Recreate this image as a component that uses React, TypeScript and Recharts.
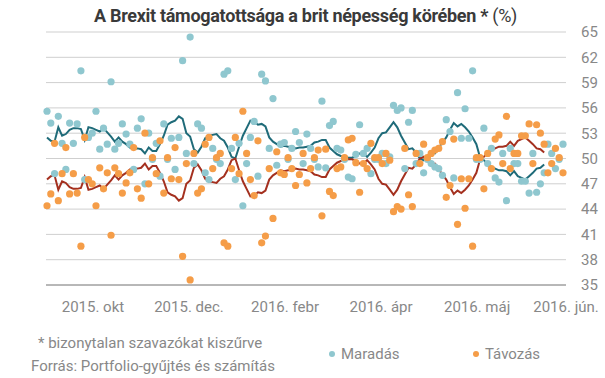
import {
  ComposedChart,
  Scatter,
  Line,
  XAxis,
  YAxis,
  CartesianGrid,
  Legend,
} from "recharts";

// Távozás (leave) share per poll, undecided filtered out
const leave = [
  44.4, 45.8, 51.8, 45.0, 48.2, 51.3, 45.8, 48.2, 45.9, 39.6,
  52.5, 47.5, 47.0, 44.4, 48.9, 46.4, 48.3, 40.9, 48.9, 48.2,
  45.9, 47.1, 48.3, 51.3, 46.4, 45.3, 53.0, 47.0, 50.1, 48.2,
  52.1, 45.9, 50.1, 47.6, 51.3, 47.5, 38.4, 49.4, 35.6, 50.6,
  45.9, 46.4, 51.7, 52.5, 48.8, 50.1, 50.6, 40.0, 39.6, 48.8,
  52.5, 48.2, 55.6, 50.6, 47.5, 45.6, 52.1, 40.0, 40.8, 48.8,
  42.9, 50.8, 48.3, 48.1, 50.1, 48.8, 46.8, 48.1, 50.6, 47.1,
  48.8, 50.1, 51.0, 43.2, 51.1, 46.1, 45.6, 48.8, 49.0, 50.1,
  52.2, 52.4, 49.5, 46.0, 49.4, 48.8, 51.8, 50.1, 50.1, 49.4,
  50.6, 49.8, 43.7, 44.3, 44.0, 51.2, 45.7, 44.3, 50.6, 49.4,
  51.7, 50.1, 50.6, 51.0, 51.2, 52.0, 45.4, 46.8, 52.3, 42.2,
  47.6, 44.1, 47.6, 39.6, 50.1, 50.1, 46.4, 50.6, 48.8, 52.3,
  52.8, 49.4, 55.0, 48.8, 50.6, 50.6, 52.7, 52.7, 54.1, 49.4,
  54.0, 53.0, 51.7, 48.3, 49.4, 51.2, 50.1, 48.3,
];

// Maradás (remain) share per poll
const remain = [
  55.6, 54.2, 48.2, 55.0, 51.8, 48.7, 54.2, 51.8, 54.1, 60.4,
  47.5, 52.5, 53.0, 55.6, 51.1, 53.6, 51.7, 59.1, 51.1, 51.8,
  54.1, 52.9, 51.7, 48.7, 53.6, 54.7, 47.0, 53.0, 49.9, 51.8,
  47.9, 54.1, 49.9, 52.4, 48.7, 52.5, 61.6, 50.6, 64.4, 49.4,
  54.1, 53.6, 48.3, 47.5, 51.2, 49.9, 49.4, 60.0, 60.4, 51.2,
  47.5, 51.8, 44.4, 49.4, 52.5, 54.4, 47.9, 60.0, 59.2, 51.2,
  57.1, 49.2, 51.7, 51.9, 49.9, 51.2, 53.2, 51.9, 49.4, 52.9,
  51.2, 49.9, 49.0, 56.8, 48.9, 53.9, 54.4, 51.2, 51.0, 49.9,
  47.8, 47.6, 50.5, 54.0, 50.6, 51.2, 48.2, 49.9, 49.9, 50.6,
  49.4, 50.2, 56.3, 55.7, 56.0, 48.8, 54.3, 55.7, 49.4, 50.6,
  48.3, 49.9, 49.4, 49.0, 48.8, 48.0, 54.6, 53.2, 47.7, 57.8,
  52.4, 55.9, 52.4, 60.4, 49.9, 49.9, 53.6, 49.4, 51.2, 47.7,
  47.2, 50.6, 45.0, 51.2, 49.4, 49.4, 47.3, 47.3, 45.9, 50.6,
  46.0, 47.0, 48.3, 51.7, 50.6, 48.8, 49.9, 51.7,
];

// moving averages
const leaveAvg = [
  47.5, 47.9, 48.0, 46.3, 47.3, 47.1, 46.6, 46.4, 46.4, 46.5,
  47.8, 46.3, 46.4, 46.6, 46.8, 46.4, 46.9, 47.4, 48.0, 47.5,
  48.0, 48.3, 48.7, 48.8, 48.8, 48.9, 49.4, 48.7, 49.1, 49.1,
  48.3, 47.3, 46.0, 45.7, 45.5, 45.0, 45.3, 47.0, 47.4, 48.9,
  49.3, 48.6, 47.6, 47.3, 47.2, 47.1, 47.6, 47.9, 48.7, 49.8,
  50.0, 48.6, 47.3, 46.4, 45.5, 45.6, 46.0, 45.9, 46.2, 47.5,
  48.0, 48.3, 48.6, 48.5, 48.6, 48.6, 48.8, 48.7, 48.7, 48.6,
  48.5, 48.1, 48.0, 47.8, 47.8, 48.7, 49.1, 49.5, 49.7, 49.8,
  49.9, 49.9, 49.7, 49.4, 49.4, 49.8, 49.3, 48.7, 47.6, 47.0,
  46.9, 46.3, 45.7, 46.3, 47.3, 48.1, 48.9, 48.8, 49.3, 50.0,
  50.2, 49.7, 49.3, 49.4, 48.7, 48.1, 47.5, 46.6, 45.8, 46.2,
  45.9, 46.3, 46.8, 47.5, 48.3, 49.9, 50.2, 50.7, 51.0, 51.2,
  51.4, 51.4, 51.5, 52.0, 51.5, 52.1, 52.3, 52.5, 52.1, 51.7,
  51.2, 51.1, 50.7,
];

const remainAvg = [
  52.5, 52.1, 52.0, 53.7, 52.7, 52.9, 53.4, 53.6, 53.6, 53.5,
  52.2, 53.7, 53.6, 53.4, 53.2, 53.6, 53.1, 52.6, 52.0, 52.5,
  52.0, 51.7, 51.3, 51.2, 51.2, 51.1, 50.6, 51.3, 50.9, 50.9,
  51.7, 52.7, 54.0, 54.3, 54.5, 55.0, 54.7, 53.0, 52.6, 51.1,
  50.7, 51.4, 52.4, 52.7, 52.8, 52.9, 52.4, 52.1, 51.3, 50.2,
  50.0, 51.4, 52.7, 53.6, 54.5, 54.4, 54.0, 54.1, 53.8, 52.5,
  52.0, 51.7, 51.4, 51.5, 51.4, 51.4, 51.2, 51.3, 51.3, 51.4,
  51.5, 51.9, 52.0, 52.2, 52.2, 51.3, 50.9, 50.5, 50.3, 50.2,
  50.1, 50.1, 50.3, 50.6, 50.6, 50.2, 50.7, 51.3, 52.4, 53.0,
  53.1, 53.7, 54.3, 53.7, 52.7, 51.9, 51.1, 51.2, 50.7, 50.0,
  49.8, 50.3, 50.7, 50.6, 51.3, 51.9, 52.5, 53.4, 54.2, 53.8,
  54.1, 53.7, 53.2, 52.5, 51.7, 50.1, 49.8, 49.3, 49.0, 48.8,
  48.6, 48.6, 48.5, 48.0, 48.5, 47.9, 47.7, 47.5, 47.9, 48.3,
  48.8, 48.9, 49.3,
];

const monthTicks = [12.2, 37.7, 63.2, 88.7, 114.2, 137.8];
const monthLabels = ["2015. okt", "2015. dec.", "2016. febr", "2016. ápr", "2016. máj", "2016. jún."];
const yTicks = [35, 38, 41, 44, 47, 50, 53, 56, 59, 62, 65];
const seriesNames = ["Maradás", "Távozás"];

const data = leave.map((v, i) => ({
  i,
  leave: v,
  remain: remain[i],
  leaveAvg: leaveAvg[i],
  remainAvg: remainAvg[i],
}));

const dot = (color: string) => (props: any) =>
  <circle cx={props.cx} cy={props.cy} r={3.6} fill={color} />;

const renderLegend = ({ payload }: any) => (
  <div style={{ display: "flex" }}>
    {(payload || [])
      .filter((e: any) => seriesNames.includes(e.value))
      .map((e: any) => (
        <div
          key={e.value}
          style={{ width: 144, display: "flex", alignItems: "center", color: "#888", fontSize: 15 }}
        >
          <span
            style={{ width: 6, height: 6, borderRadius: 3, background: e.color, marginRight: 6, display: "inline-block" }}
          />
          {e.value}
        </div>
      ))}
  </div>
);

export default function App() {
  const font = "Roboto, 'Noto Sans', sans-serif";
  return (
    <div style={{ position: "absolute", left: 0, top: 0, width: 605, height: 378, background: "#fff", fontFamily: font }}>
      <div
        style={{
          position: "absolute",
          left: 94,
          top: 5,
          whiteSpace: "nowrap",
          fontSize: 18,
          fontWeight: 700,
          color: "#3a3a3a",
          letterSpacing: -0.3,
        }}
      >
        A Brexit támogatottsága a brit népesség körében * <span style={{ fontWeight: 400 }}>(%)</span>
      </div>
      <ComposedChart
        width={605}
        height={378}
        data={data}
        margin={{ top: 32, right: 0, bottom: 45, left: 46 }}
      >
        <CartesianGrid vertical={false} stroke="#cfcfcf" />
        <XAxis
          dataKey="i"
          type="number"
          domain={[-0.27, 137.8]}
          ticks={monthTicks}
          tickFormatter={(v: number) => monthLabels[monthTicks.indexOf(v)]}
          tickLine={false}
          tickSize={0}
          tickMargin={16}
          height={30}
          axisLine={{ stroke: "#888" }}
          tick={{ fill: "#888", fontSize: 15, fontFamily: font }}
          interval={0}
        />
        <YAxis
          orientation="right"
          domain={[35, 65]}
          ticks={yTicks}
          axisLine={false}
          tickLine={false}
          tickSize={0}
          tickMargin={15}
          width={39}
          tick={{ fill: "#888", fontSize: 15, fontFamily: font, textAnchor: "start" }}
          interval={0}
        />
        <Scatter name="Maradás" dataKey="remain" fill="#8fc7cf" shape={dot("#8fc7cf")} isAnimationActive={false} />
        <Scatter name="Távozás" dataKey="leave" fill="#f59d48" shape={dot("#f59d48")} isAnimationActive={false} />
        <Line dataKey="remainAvg" stroke="#1f6b79" strokeWidth={2} dot={false} legendType="none" isAnimationActive={false} />
        <Line dataKey="leaveAvg" stroke="#a4301f" strokeWidth={2} dot={false} legendType="none" isAnimationActive={false} />
        <Legend
          content={renderLegend}
          wrapperStyle={{ position: "absolute", left: 329, top: 345, width: 290 }}
        />
      </ComposedChart>
      <div style={{ position: "absolute", left: 38, top: 334, fontSize: 15, color: "#888", whiteSpace: "nowrap" }}>
        * bizonytalan szavazókat kiszűrve
      </div>
      <div style={{ position: "absolute", left: 31, top: 357, fontSize: 15, color: "#888", whiteSpace: "nowrap" }}>
        Forrás: Portfolio-gyűjtés és számítás
      </div>
    </div>
  );
}
